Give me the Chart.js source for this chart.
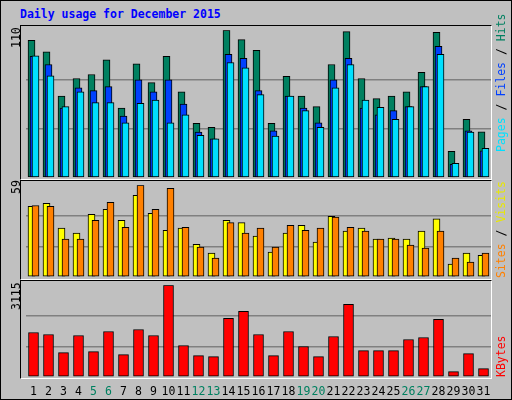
<!DOCTYPE html>
<html><head><meta charset="utf-8">
<script src="https://cdn.jsdelivr.net/npm/chart.js@4"></script>
<style>
body{margin:0;background:#fff}
#wrap{position:absolute;left:0;top:0;width:510px;height:398px;background:#c0c0c0;border:1px solid #000;border-right-color:#000;overflow:hidden;font-family:"DejaVu Sans Mono",monospace}
.panel{position:absolute;left:19px;width:470px;border:1px solid;border-color:#000 #fff #fff #000}
canvas{position:absolute;left:0}
.t{position:absolute;font-size:11.5px;white-space:nowrap;transform-origin:0 0;transform:rotate(-90deg)}
#title{position:absolute;left:19px;top:6px;font-weight:bold;font-size:11.5px;color:#0000ff}
</style></head><body>
<div id="wrap">
<div id="title">Daily usage for December 2015</div>
<div class="panel" style="top:24px;height:153px"></div>
<div class="panel" style="top:179px;height:98px"></div>
<div class="panel" style="top:279px;height:97px"></div>
<canvas id="c1" width="512" height="156" style="top:24px;width:512px;height:156px"></canvas>
<canvas id="c2" width="512" height="100" style="top:179px;width:512px;height:100px"></canvas>
<canvas id="c3" width="512" height="119" style="top:279px;width:512px;height:119px"></canvas>
<div class="t" style="left:8px;top:47px">110</div>
<div class="t" style="left:8px;top:193px">59</div>
<div class="t" style="left:8px;top:309px">3115</div>
<div class="t" style="left:493px;top:151px"><span style="color:#00e0ff">Pages</span> / <span style="color:#0040ff">Files</span> / <span style="color:#008060">Hits</span></div>
<div class="t" style="left:493px;top:277px"><span style="color:#ff8000">Sites</span> / <span style="color:#e8e800">Visits</span></div>
<div class="t" style="left:493px;top:376px"><span style="color:#ff0000">KBytes</span></div>
</div>
<script>
const days = Array.from({length:31},(_,i)=>String(i+1));
const weekend = [5,6,12,13,19,20,26,27];
const hits   = [102.5,94,61,74,77,88,52,85,71,90.5,64,40.5,37.5,110,103,95,40.5,75.6,61,53,84.5,109,74,59,61,64,78.6,108.5,19.6,43.5,34.3];
const files  = [90.5,84.5,52,67,65,68,46,73,64,73,55,34,29,92,89,65,35,61,52,41,73,89,52,47,50,53,68,98,10,35,20];
const pages  = [91,76,53,64,56,56,41,55.5,58,41,47,31.6,29,86,82,62,31,61,50,37.5,67,84.5,58,52.5,43.5,53,68,92,10.7,34,22];
const visits = [45.5,47.4,31.4,28.2,40.4,43.6,36.5,52.6,41,30,31.4,21,15.4,36.5,35,26.3,16,28.2,33.3,22.4,39,29.5,31.4,24.4,25,24.4,29.5,37.4,8.3,15.4,14];
const sites  = [46,45.5,24.4,24.4,36.5,48,32,59,43.6,57,32,19.2,12.2,35,28.2,31.4,19.2,33.3,30,31.4,38.5,32,29.5,24.4,24.4,20.5,18.6,29.5,12.2,9.6,15.4];
const kbytes = [1512,1444,830,1410,864,1546,762,1615,1410,3115,1069,728,694,1990,2229,1444,728,1546,1035,694,1376,2467,898,898,898,1273,1342,1956,182,796,284];
const maxTop=110, maxMid=59, maxBot=3115;

Chart.defaults.font.family='"DejaVu Sans Mono", monospace';
const shiftPlugin={id:'shift',afterDatasetsUpdate(chart){
  chart.data.datasets.forEach((ds,i)=>{const s=ds.shift||0;if(!s)return;
    chart.getDatasetMeta(i).data.forEach(el=>{el.x+=s;});});
}};
function ds(label,data,color,shift,order,w){
  return {label,data,backgroundColor:color,borderColor:'#000',borderWidth:1,borderSkipped:false,
    grouped:false,barThickness:w,shift,order};
}
function make(id,datasets,max,padTop,padBot,showX){
  new Chart(document.getElementById(id),{type:'bar',
    data:{labels:days,datasets},
    plugins:[shiftPlugin],
    options:{responsive:false,animation:false,events:[],
      layout:{padding:{left:25,right:22,top:padTop,bottom:padBot}},
      plugins:{legend:{display:false},tooltip:{enabled:false}},
      scales:{
        x:{display:showX,grid:{display:false},border:{display:false},
          ticks:{autoSkip:false,maxRotation:0,padding:0,font:{size:11.5},
            color:c=>weekend.includes(c.index+1)?'#008060':'#000'},
          afterFit:s=>{s.height=showX?22:0;}},
        y:{min:0,max,afterFit:s=>{s.width=0;},border:{display:false},
          ticks:{display:false,stepSize:max/3},
          afterBuildTicks:s=>{s.ticks=[0,1,2,3].map(k=>({value:max*k/3}));},
          grid:{color:c=>(c.index===1||c.index===2)?'#808080':'rgba(0,0,0,0)',lineWidth:1.5,drawTicks:false}}
      }}});
}
make('c1',[ds('Pages',pages,'#00e0ff',2,0,7),ds('Files',files,'#0040ff',0,1,7),ds('Hits',hits,'#008060',-2,2,7)],maxTop,5.3,3.3,false);
make('c2',[ds('Sites',sites,'#ff8000',2,0,7),ds('Visits',visits,'#ffff00',-2,1,7)],maxMid,5.3,3,false);
make('c3',[ds('KBytes',kbytes,'#ff0000',0,0,10)],maxBot,5.3,0,true);
</script>
</body></html>
